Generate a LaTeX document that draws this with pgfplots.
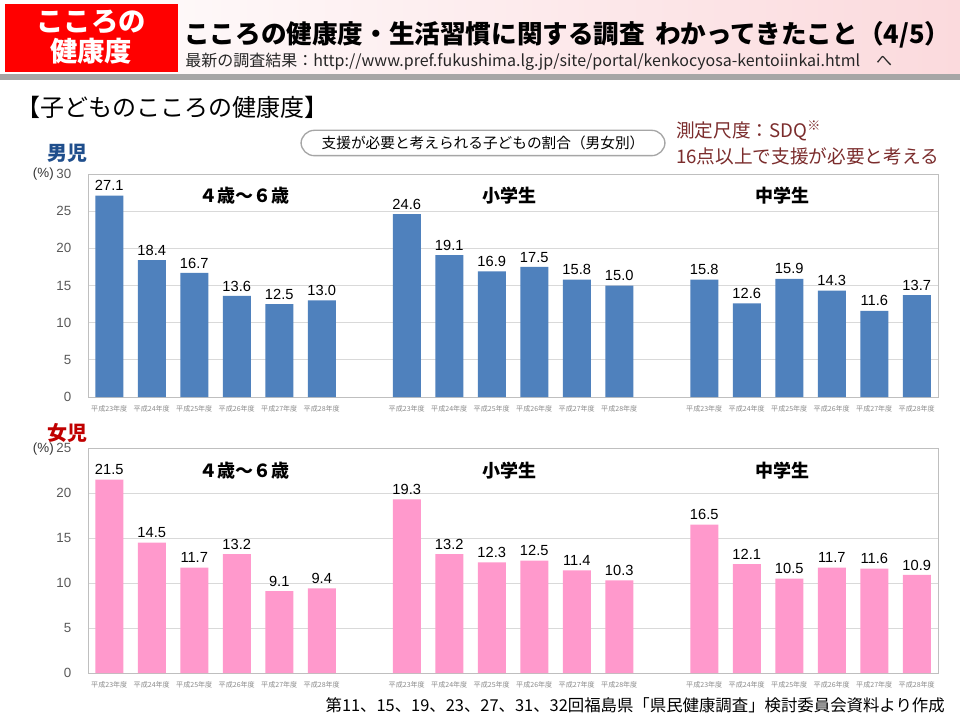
\documentclass[border=0pt]{standalone}
\usepackage{fontspec}
\setmainfont{Liberation Sans}
\newfontfamily\jp{Noto Sans CJK JP}
\usepackage{pgfplots}
\pgfplotsset{compat=1.18}
\definecolor{boyblue}{HTML}{4F81BD}
\definecolor{girlpink}{HTML}{FF99CC}
\definecolor{gridgrey}{HTML}{D9D9D9}
\definecolor{framegrey}{HTML}{BFBFBF}
\definecolor{ticktxt}{HTML}{595959}
\definecolor{smalltick}{HTML}{8C8C8C}
\definecolor{darkred}{HTML}{7B2C2C}
\definecolor{boyhead}{HTML}{1F4E8C}
\definecolor{girlhead}{HTML}{C00000}
\definecolor{headred}{HTML}{FF0000}
\definecolor{headpink}{HTML}{FBDADD}
\definecolor{bandgrey}{HTML}{A6A6A6}
\pgfplotsset{
 slide/.style={
  scale only axis, width=637.5pt,
  anchor=south west,
  xmin=-0.5, xmax=19.5, ymin=0,
  ybar, bar width=21pt,
  xtick={0,1,2,3,4,5,7,8,9,10,11,12,14,15,16,17,18,19},
  xticklabels={平成23年度,平成24年度,平成25年度,平成26年度,平成27年度,平成28年度,
               平成23年度,平成24年度,平成25年度,平成26年度,平成27年度,平成28年度,
               平成23年度,平成24年度,平成25年度,平成26年度,平成27年度,平成28年度},
  x tick label style={font=\jp\fontsize{5.3}{6}\selectfont, text=smalltick, yshift=-3pt},
  y tick label style={font=\fontsize{10}{11}\selectfont, text=ticktxt, xshift=-9pt},
  /pgf/number format/assume math mode=true,
  major tick length=0pt,
  ymajorgrids, grid style={gridgrey, line width=0.75pt},
  axis line style={framegrey, line width=0.75pt},
  nodes near coords,
  nodes near coords style={font=\fontsize{11}{12}\selectfont, text=black,
     /pgf/number format/.cd, fixed, fixed zerofill, precision=1, assume math mode=true},
 }
}
\begin{document}
\begin{tikzpicture}
\useasboundingbox (0,0) rectangle (720pt,-540pt);
\fill[white] (0,0) rectangle (720pt,-540pt);
\begin{scope}[x=0.75pt,y=-0.75pt]
 \shade[left color=white,right color=headpink] (0,0) rectangle (960,74);
 \fill[bandgrey] (0,74) rectangle (960,80);
 \fill[headred] (5,4) rectangle (178,72);
 \node[text=white,font=\jp\bfseries\fontsize{20.5}{22}\selectfont] at (91,22) {こころの};
 \node[text=white,font=\jp\bfseries\fontsize{20.5}{22}\selectfont] at (91,51) {健康度};
 \node[anchor=west,inner sep=0pt,font=\jp\bfseries\fontsize{19.2}{21}\selectfont] at (184,35) {こころの健康度・生活習慣に関する調査\hspace{0.4em}わかってきたこと（4/5）};
 \node[anchor=west,inner sep=0pt,text=black!85,font=\jp\fontsize{12}{14}\selectfont] at (185,62) {最新の調査結果：http://www.pref.fukushima.lg.jp/site/portal/kenkocyosa-kentoiinkai.html\hspace{1em}へ};
 \node[anchor=west,inner sep=0pt,font=\jp\fontsize{18}{20}\selectfont] at (16,107) {【子どものこころの健康度】};
 \node[draw=gray!70,line width=1pt,rounded corners=10pt,minimum width=273pt,minimum height=19pt,inner sep=0pt,font=\jp\fontsize{11}{13}\selectfont] at (483,143) {支援が必要と考えられる子どもの割合（男女別）};
 \node[anchor=west,inner sep=0pt,text=darkred,font=\jp\fontsize{14}{16}\selectfont] at (676,131) {測定尺度：SDQ\textsuperscript{※}};
 \node[anchor=west,inner sep=0pt,text=darkred,font=\jp\fontsize{14}{16}\selectfont] at (676,156) {16点以上で支援が必要と考える};
 \node[anchor=west,inner sep=0pt,text=boyhead,font=\jp\bfseries\fontsize{15}{17}\selectfont] at (47,153) {男児};
 \node[anchor=west,inner sep=0pt,text=girlhead,font=\jp\bfseries\fontsize{15}{17}\selectfont] at (47,433) {女児};
 \node[anchor=east,inner sep=0pt,text=black!80,font=\fontsize{10}{11}\selectfont] at (54,174) {(\%)};
 \node[anchor=east,inner sep=0pt,text=black!80,font=\fontsize{10}{11}\selectfont] at (54,449) {(\%)};
 \node[anchor=east,inner sep=0pt,font=\jp\fontsize{12.3}{14}\selectfont] at (945,705) {第11、15、19、23、27、31、32回福島県「県民健康調査」検討委員会資料より作成};
\end{scope}
% Boys
\begin{axis}[slide, at={(66pt,-297.75pt)}, height=167.25pt, ymax=30, ytick={0,5,...,30}]
\addplot[fill=boyblue,draw=none] coordinates {
 (0,27.1) (1,18.4) (2,16.7) (3,13.6) (4,12.5) (5,13.0)
 (7,24.6) (8,19.1) (9,16.9) (10,17.5) (11,15.8) (12,15.0)
 (14,15.8) (15,12.6) (16,15.9) (17,14.3) (18,11.6) (19,13.7)};
\end{axis}
% Girls
\begin{axis}[slide, at={(66pt,-504.75pt)}, height=168.75pt, ymax=25, ytick={0,5,...,25}]
\addplot[fill=girlpink,draw=none] coordinates {
 (0,21.5) (1,14.5) (2,11.7) (3,13.2) (4,9.1) (5,9.4)
 (7,19.3) (8,13.2) (9,12.3) (10,12.5) (11,11.4) (12,10.3)
 (14,16.5) (15,12.1) (16,10.5) (17,11.7) (18,11.6) (19,10.9)};
\end{axis}
\begin{scope}[x=0.75pt,y=-0.75pt]
 \foreach \yy in {196,471}{
  \node[font=\jp\bfseries\fontsize{13.5}{15}\selectfont] at (244,\yy) {４歳～６歳};
  \node[font=\jp\bfseries\fontsize{13.5}{15}\selectfont] at (509,\yy) {小学生};
  \node[font=\jp\bfseries\fontsize{13.5}{15}\selectfont] at (782,\yy) {中学生};
 }
\end{scope}
\end{tikzpicture}
\end{document}
